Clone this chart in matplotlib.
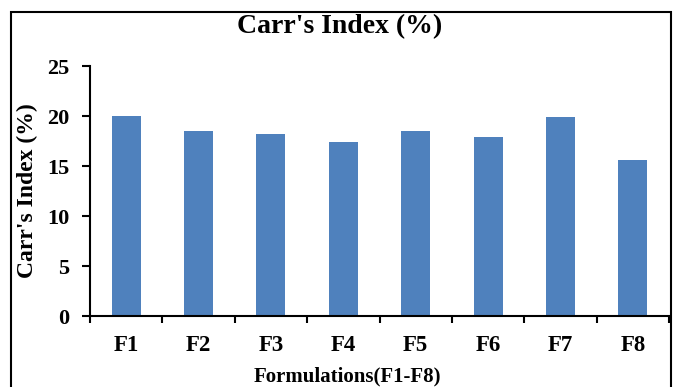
import matplotlib.pyplot as plt
from matplotlib.patches import Rectangle

formulations = ["F1", "F2", "F3", "F4", "F5", "F6", "F7", "F8"]
carrs_index = [20.0, 18.5, 18.2, 17.4, 18.5, 17.9, 19.9, 15.6]

plt.rcParams['font.family'] = ['Liberation Serif', 'DejaVu Serif']
plt.rcParams['font.weight'] = 'bold'

fig = plt.figure(figsize=(6.73, 3.87), dpi=100)
ax = fig.add_axes([90 / 673, 71 / 387, 579 / 673, 250 / 387])

pos = list(range(len(formulations)))
ax.bar(pos, carrs_index, width=0.4, color="#4F81BD")

ax.set_xlim(-0.5, len(formulations) - 0.5)
ax.set_ylim(0, 25)
ax.set_yticks([0, 5, 10, 15, 20, 25])

# category labels between the boundary ticks
ax.set_xticks([p - 0.5 for p in pos] + [len(pos) - 0.5])
ax.set_xticklabels([])
ax.set_xticks(pos, minor=True)
ax.set_xticklabels(formulations, minor=True, fontsize=16.5, fontweight='bold')
ax.tick_params(axis='x', which='minor', length=0, pad=14)
ax.tick_params(axis='x', which='major', length=5, width=1.5, direction='out')
ax.tick_params(axis='y', length=6, width=1.5, direction='out', pad=9, labelsize=16)
for lab in ax.get_yticklabels():
    lab.set_fontweight('bold')

for s in ["top", "right"]:
    ax.spines[s].set_visible(False)
for s in ["left", "bottom"]:
    ax.spines[s].set_linewidth(1.5)

ax.set_ylabel("Carr's Index (%)", fontsize=17, fontweight='bold')
ax.yaxis.set_label_coords(-0.09, 0.5)

fig.text(340 / 673, 1 - 27 / 387, "Carr's Index (%)", ha='center', va='center',
         fontsize=20, fontweight='bold')
fig.text(347 / 673, 1 - 376 / 387, "Formulations(F1-F8)", ha='center', va='center',
         fontsize=15, fontweight='bold')

# outer frame around the chart
fig.patches.append(Rectangle((11 / 673, -0.1), 660 / 673, 1.1 - 12 / 387,
                             transform=fig.transFigure, fill=False,
                             edgecolor='black', linewidth=1.5))

fig.savefig("out.png", dpi=100)
